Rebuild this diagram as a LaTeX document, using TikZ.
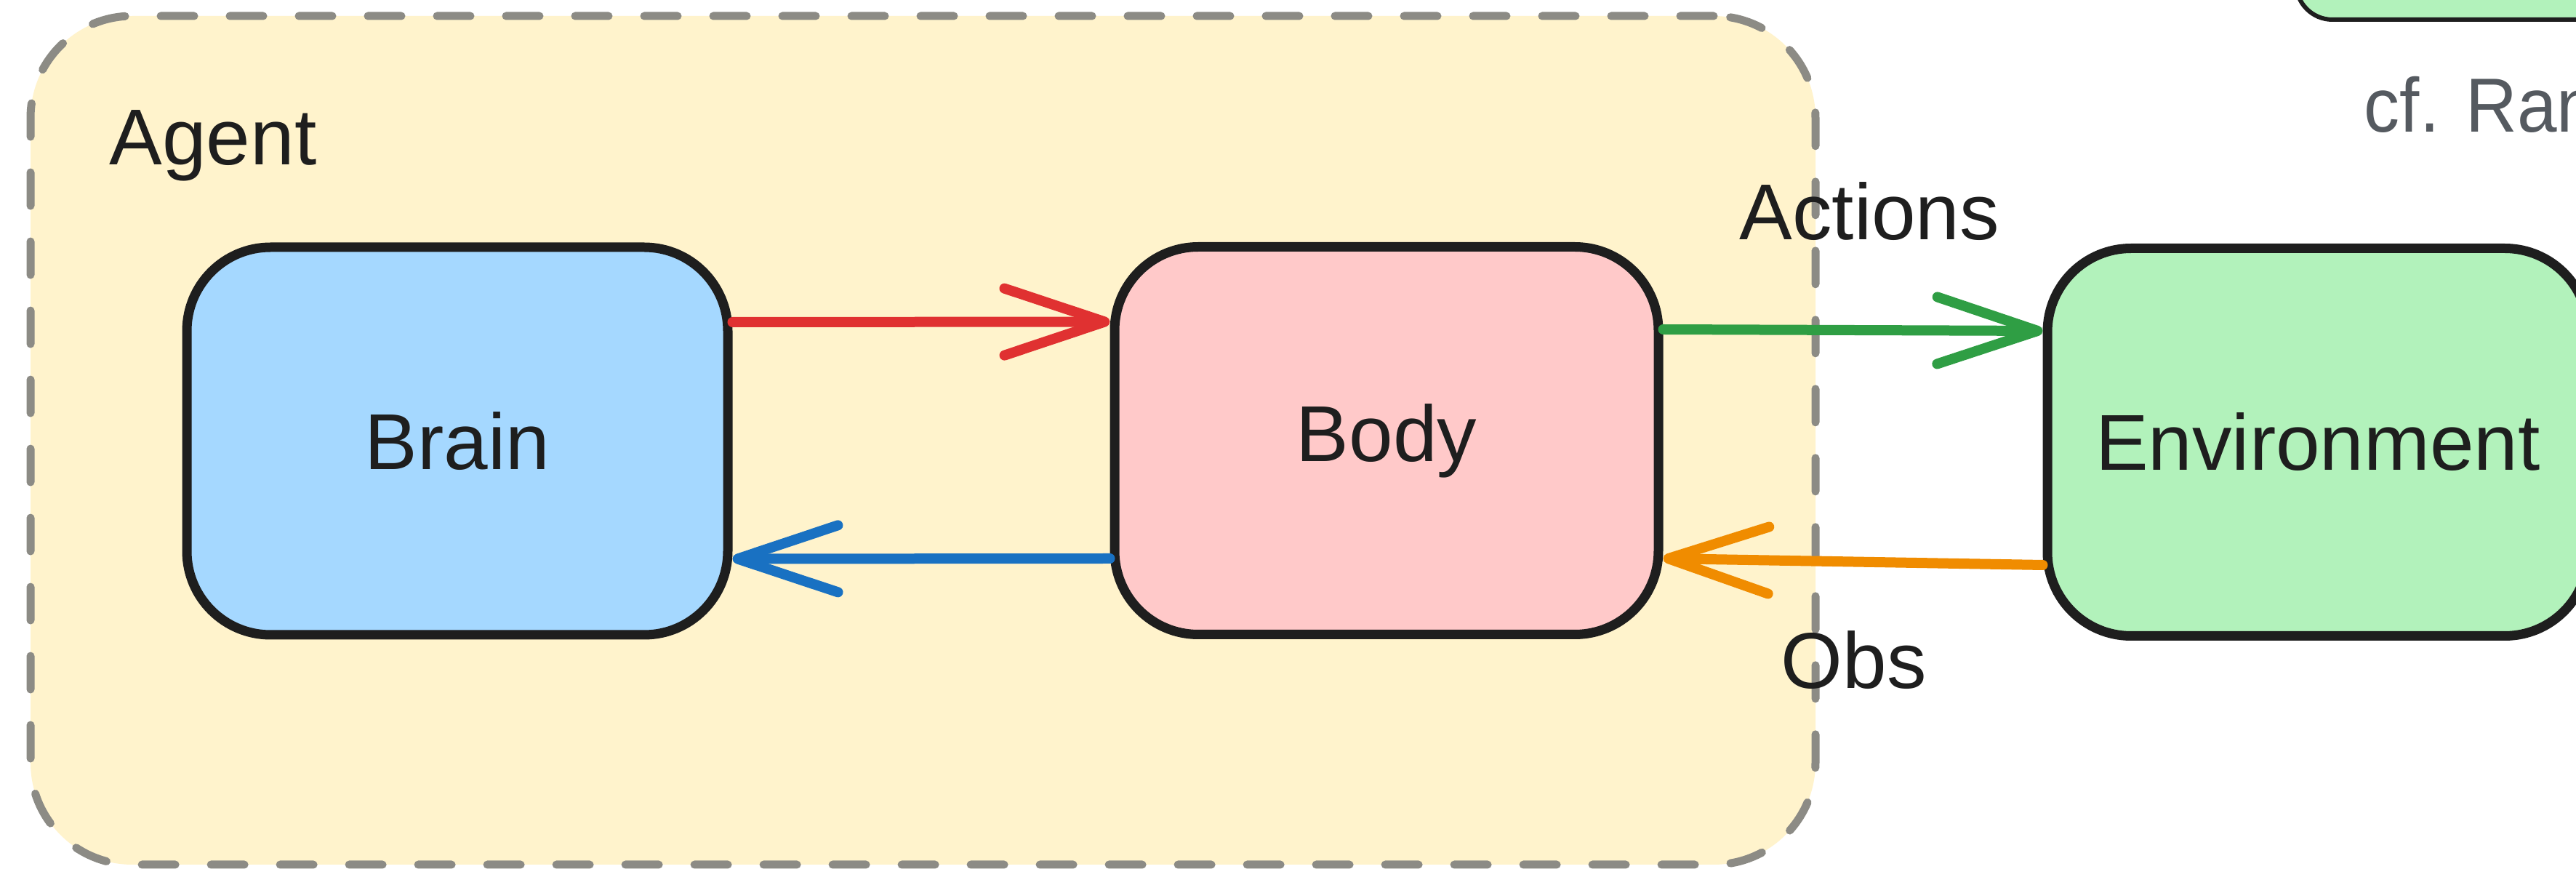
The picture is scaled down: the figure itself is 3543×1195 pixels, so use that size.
\documentclass[tikz,border=0pt]{standalone}
\usepackage{fontspec}
\setmainfont{Liberation Sans}
\usetikzlibrary{arrows.meta}
\definecolor{agentfill}{HTML}{FFF3CC}
\definecolor{dashgray}{HTML}{8C8B85}
\definecolor{inkblack}{HTML}{1E1E1E}
\definecolor{brainfill}{HTML}{A5D8FF}
\definecolor{bodyfill}{HTML}{FFC9C9}
\definecolor{envfill}{HTML}{B2F2BB}
\definecolor{redarrow}{HTML}{E03131}
\definecolor{bluearrow}{HTML}{1971C2}
\definecolor{greenarrow}{HTML}{2F9E44}
\definecolor{orangearrow}{HTML}{F08C00}
\definecolor{notegray}{HTML}{555A60}
\begin{document}
\begin{tikzpicture}[x=0.1mm,y=-0.1mm,
  blockbox/.style={draw=inkblack, line width=1.3mm, rounded corners=11.5mm,
    minimum width=74.4mm, minimum height=53.3mm, inner sep=0pt,
    font=\fontsize{31}{37}\selectfont, text=inkblack},
  container/.style={draw=dashgray, fill=agentfill, line width=1.1mm,
    dash pattern=on 4.6mm off 4.9mm, line cap=round, rounded corners=14mm,
    minimum width=245.5mm, minimum height=116.7mm, inner sep=0pt},
  hand/.style={font=\fontsize{31}{37}\selectfont, text=inkblack, inner sep=0pt, anchor=base west},
  flow/.style={line width=1.4mm, line cap=round, line join=round,
    -{Straight Barb[length=13.8mm,width=9.2mm,round]}},
]
\useasboundingbox (0,0) rectangle (3543,1195);
\clip (0,0) rectangle (3543,1195);
\fill[white] (0,0) rectangle (3543,1195);

% container
\node[container] (agentbox) at (1269.5,605.5) {};

% partially visible box at top right
\node[draw=inkblack, fill=envfill, line width=0.6mm, rounded corners=5mm,
  minimum width=60mm, minimum height=30mm, inner sep=0pt] (topbox) at (3458,-123) {};

% blocks
\node[blockbox, fill=brainfill] (brain) at (629,606.5) {Brain};
\node[blockbox, fill=bodyfill, minimum width=74.8mm] (body) at (1907,606) {Body};
\node[blockbox, fill=envfill] (env) at (3188,608) {Environment};

% arrows
\draw[flow, redarrow] ([yshift=16.35mm]brain.east) -- ([yshift=16.35mm]body.west);
\draw[flow, bluearrow] ([yshift=-16.2mm]body.west) -- ([yshift=-16.2mm]brain.east);
\draw[flow, greenarrow] ([yshift=15.3mm]body.east) -- ([yshift=15.3mm]env.west);
\draw[flow, orangearrow] ([yshift=-16.9mm]env.west) -- ([yshift=-16.2mm]body.east);

% labels
\node[hand] (agentlabel) at (150,227) {Agent};
\node[hand] (actionslabel) at (2392,330) {Actions};
\node[hand] (obslabel) at (2449,947) {Obs};
\node[inner sep=0pt, anchor=base west, text=notegray, font=\fontsize{30}{36}\selectfont] (note) at (3251,182) {\scalebox{0.93}[1]{cf. Ran}};
\end{tikzpicture}
\end{document}
